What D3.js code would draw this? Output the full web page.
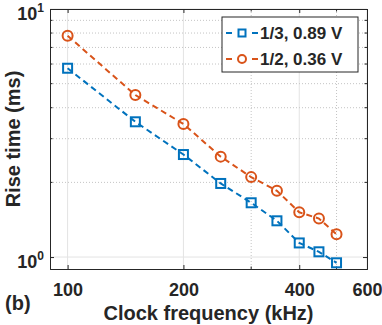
<!DOCTYPE html>
<html>
<head>
<meta charset="utf-8">
<script src="https://cdn.jsdelivr.net/npm/d3@7"></script>
<style>
  body { margin: 0; background: #fff; }
  text { font-family: "Liberation Sans", Arial, sans-serif; font-weight: bold; fill: #262626; }
</style>
</head>
<body>
<div id="chart"></div>
<script>
const freq = [100, 150, 200, 250, 300, 350, 400, 450, 500];
const riseThird = [5.77, 3.51, 2.59, 1.98, 1.655, 1.40, 1.14, 1.05, 0.948];
const riseHalf = [7.8, 4.50, 3.44, 2.54, 2.10, 1.85, 1.515, 1.43, 1.235];
const seriesNames = ["1/3, 0.89 V", "1/2, 0.36 V"];
const xTicks = [100, 200, 400, 600];
const xMinor = [100, 200, 300, 400, 500, 600];
const yTicks = [1, 10];
const yMinor = [2, 3, 4, 5, 6, 7, 8, 9];

const svgWidth = 382, svgHeight = 325;
const margin = { top: 9, right: 15, bottom: 56, left: 50 };
const width = svgWidth - margin.left - margin.right;
const height = svgHeight - margin.top - margin.bottom;

const blue = "#0072BD", orange = "#D95319";

const svg = d3.select("#chart").append("svg")
    .attr("width", svgWidth)
    .attr("height", svgHeight);

const chart = svg.append("g")
    .attr("transform", `translate(${margin.left},${margin.top})`);

const x = d3.scaleLog().domain([90, 600]).range([0, width]);
const y = d3.scaleLog().domain([0.895, 10]).range([height, 0]);

// grid
chart.selectAll(".gx").data(xMinor).enter().append("line")
    .attr("x1", d => x(d)).attr("x2", d => x(d))
    .attr("y1", 0).attr("y2", height)
    .attr("stroke", d => xTicks.includes(d) ? "#e3e3e3" : "#c4c4c4")
    .attr("stroke-dasharray", d => xTicks.includes(d) ? null : "1,2");

chart.selectAll(".gy").data(yMinor.concat(yTicks)).enter().append("line")
    .attr("x1", 0).attr("x2", width)
    .attr("y1", d => y(d)).attr("y2", d => y(d))
    .attr("stroke", d => yTicks.includes(d) ? "#e3e3e3" : "#c4c4c4")
    .attr("stroke-dasharray", d => yTicks.includes(d) ? null : "1,2");

// axes
const axisColor = "#262626";
const gx = chart.append("g").attr("transform", `translate(0,${height})`)
    .call(d3.axisBottom(x).tickValues(xTicks).tickSize(-4).tickFormat(d3.format("d")));
const gxt = chart.append("g")
    .call(d3.axisTop(x).tickValues(xTicks).tickSize(-4).tickFormat(""));
const gy = chart.append("g")
    .call(d3.axisLeft(y).tickValues(yTicks).tickSize(-4).tickFormat(""));
const gyr = chart.append("g").attr("transform", `translate(${width},0)`)
    .call(d3.axisRight(y).tickValues(yTicks).tickSize(-4).tickFormat(""));
[gx, gxt, gy, gyr].forEach(g => {
    g.select(".domain").attr("stroke", axisColor);
    g.selectAll(".tick line").attr("stroke", axisColor);
});
gx.selectAll(".tick text").attr("font-size", "18px").attr("dy", "1.35em")
    .attr("fill", axisColor).attr("font-family", null);

// minor ticks
chart.selectAll(".mty").data(yMinor).enter().append("line")
    .attr("x1", 0).attr("x2", 2.5).attr("y1", d => y(d)).attr("y2", d => y(d)).attr("stroke", axisColor);
chart.selectAll(".mtyr").data(yMinor).enter().append("line")
    .attr("x1", width).attr("x2", width - 2.5).attr("y1", d => y(d)).attr("y2", d => y(d)).attr("stroke", axisColor);
chart.selectAll(".mtx").data([300, 500]).enter().append("line")
    .attr("x1", d => x(d)).attr("x2", d => x(d)).attr("y1", height).attr("y2", height - 2.5).attr("stroke", axisColor);
chart.selectAll(".mtxt").data([300, 500]).enter().append("line")
    .attr("x1", d => x(d)).attr("x2", d => x(d)).attr("y1", 0).attr("y2", 2.5).attr("stroke", axisColor);

// y tick labels 10^n
yTicks.forEach(v => {
    const t = chart.append("text")
        .attr("x", -6).attr("y", y(v) + 11)
        .attr("text-anchor", "end")
        .attr("font-size", "18px");
    t.append("tspan").text("10");
    t.append("tspan").attr("font-size", "12px").attr("dy", "-8").text(Math.round(Math.log10(v)));
});

// series
const series = [
    { vals: riseThird, color: blue, marker: "square" },
    { vals: riseHalf, color: orange, marker: "circle" }
];
const line = d3.line().x(d => x(d[0])).y(d => y(d[1]));

series.forEach(s => {
    const pts = freq.map((f, i) => [f, s.vals[i]]);
    chart.append("path").datum(pts)
        .attr("d", line)
        .attr("fill", "none")
        .attr("stroke", s.color)
        .attr("stroke-width", 2)
        .attr("stroke-dasharray", "6,4");
    if (s.marker === "square") {
        chart.selectAll(null).data(pts).enter().append("rect")
            .attr("x", d => x(d[0]) - 4.5).attr("y", d => y(d[1]) - 4.5)
            .attr("width", 9).attr("height", 9)
            .attr("fill", "none").attr("stroke", s.color).attr("stroke-width", 2);
    } else {
        chart.selectAll(null).data(pts).enter().append("circle")
            .attr("cx", d => x(d[0])).attr("cy", d => y(d[1]))
            .attr("r", 5)
            .attr("fill", "none").attr("stroke", s.color).attr("stroke-width", 2);
    }
});

// legend
const legend = svg.append("g").attr("transform", "translate(222,17)");
legend.append("rect").attr("width", 136).attr("height", 55)
    .attr("fill", "#fff").attr("stroke", axisColor).attr("stroke-width", 1);
series.forEach((s, i) => {
    const cy = 16 + i * 26;
    legend.append("line").attr("x1", 4).attr("x2", 36).attr("y1", cy).attr("y2", cy)
        .attr("stroke", s.color).attr("stroke-width", 2).attr("stroke-dasharray", "6,7");
    if (s.marker === "square") {
        legend.append("rect").attr("x", 16.5).attr("y", cy - 3.5).attr("width", 7).attr("height", 7)
            .attr("fill", "#fff").attr("stroke", s.color).attr("stroke-width", 2);
    } else {
        legend.append("circle").attr("cx", 20).attr("cy", cy).attr("r", 4)
            .attr("fill", "#fff").attr("stroke", s.color).attr("stroke-width", 2);
    }
    legend.append("text").attr("x", 38).attr("y", cy + 6)
        .attr("font-size", "17px").text(seriesNames[i]);
});

// labels
chart.append("text")
    .attr("x", width / 2).attr("y", height + 51)
    .attr("text-anchor", "middle").attr("font-size", "20px")
    .text("Clock frequency (kHz)");

chart.append("text")
    .attr("transform", "rotate(-90)")
    .attr("x", -height / 2).attr("y", -30)
    .attr("text-anchor", "middle").attr("font-size", "20px")
    .text("Rise time (ms)");

svg.append("text").attr("x", 5).attr("y", 310)
    .attr("font-size", "20px").text("(b)");
</script>
</body>
</html>
